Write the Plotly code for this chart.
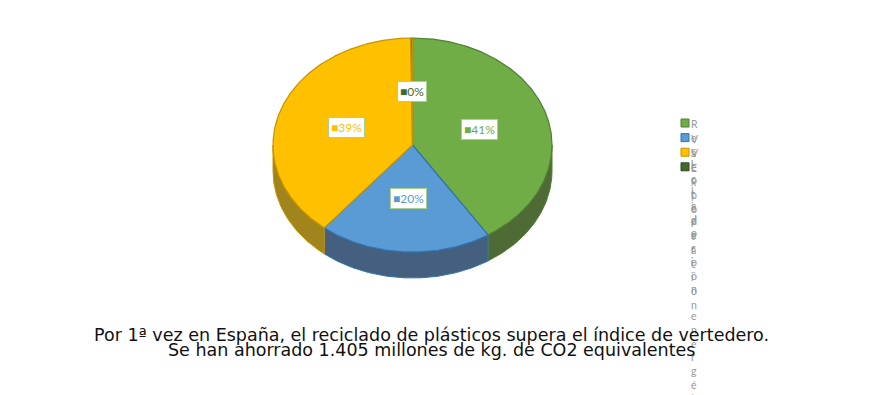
import numpy as np
import plotly.graph_objects as go

categories = ["Reciclado", "Valorización energética", "Vertedero", "Exportación"]
values = [40.9, 20.0, 38.9, 0.2]
top_colors = ["#70AD47", "#5B9BD5", "#FFC000", "#43682B"]
side_colors = ["#4E6B36", "#44607E", "#A2841C", "#2B4420"]
edge_colors = ["#507E32", "#2E75B6", "#C49400", "#C49400"]
title_lines = [
    "Por 1ª vez en España, el reciclado de plásticos supera el índice de vertedero.",
    "Se han ahorrado 1.405 millones de kg. de CO2 equivalentes",
]

W, H = 875, 395
CX, CY, RX, RY, DEPTH = 412.5, 145.0, 139.5, 107.0, 26.0


def pt(theta_deg, f=1.0, dy=0.0):
    t = np.radians(theta_deg)
    return CX + RX * f * np.sin(t), CY - RY * f * np.cos(t) + dy


def arc(a, b, dy=0.0, n=None):
    if n is None:
        n = max(2, int(abs(b - a) * 2) + 2)
    th = np.linspace(a, b, n)
    xs, ys = pt(th, 1.0, dy)
    return list(xs), list(ys)


total = float(sum(values))
bounds = []
acc = 0.0
for v in values:
    a = acc / total * 360.0
    acc += v
    b = acc / total * 360.0
    bounds.append((a, b))

fig = go.Figure()

# side walls (front half only)
for (a, b), sc, ec in zip(bounds, side_colors, edge_colors):
    lo, hi = max(a, 90.0), min(b, 270.0)
    if hi <= lo:
        continue
    tx, ty = arc(lo, hi)
    bx, by = arc(hi, lo, DEPTH)
    fig.add_trace(go.Scatter(
        x=tx + bx + [tx[0]], y=ty + by + [ty[0]], mode="lines", fill="toself",
        fillcolor=sc, line=dict(color=ec, width=1), hoverinfo="skip", showlegend=False))

# top faces
for (a, b), tc, ec in zip(bounds, top_colors, edge_colors):
    ax_, ay_ = arc(a, b)
    fig.add_trace(go.Scatter(
        x=[CX] + ax_ + [CX], y=[CY] + ay_ + [CY], mode="lines", fill="toself",
        fillcolor=tc, line=dict(color=ec, width=1.2), hoverinfo="skip", showlegend=False))

# data labels
for (a, b), v, tc in zip(bounds, values, top_colors):
    mid = (a + b) / 2.0
    lx, ly = pt(mid, 0.5)
    pct = int(round(v / total * 100))
    fig.add_annotation(
        x=float(lx), y=float(ly), xref="x", yref="y", showarrow=False,
        text=f'<span style="color:{tc}">■</span>{pct}%',
        font=dict(family="Lato", size=12, color=tc),
        bgcolor="white", bordercolor="#A9D18E", borderwidth=1, borderpad=2)

# legend (vertical text as in the original)
LX, LY0, LDY = 685.0, 123.0, 14.6
ly_list = [LY0 + i * LDY for i in range(len(categories))]
fig.add_trace(go.Scatter(
    x=[LX] * len(categories), y=ly_list, mode="markers",
    marker=dict(symbol="square", size=8, color=top_colors,
                line=dict(color=["#507E32", "#2E75B6", "#C49400", "#2F4A1E"], width=1)),
    hoverinfo="skip", showlegend=False))
for name, yy in zip(categories, ly_list):
    fig.add_annotation(
        x=LX + 4, y=yy - 7, xref="x", yref="y", showarrow=False,
        xanchor="left", yanchor="top", align="left",
        text="<br>".join(list(name)),
        font=dict(family="Lato", size=10.5, color="#999999"))

# title at bottom
for i, line in enumerate(title_lines):
    fig.add_annotation(
        x=W / 2 - 6, y=335 + i * 15, xref="x", yref="y", showarrow=False,
        xanchor="center", yanchor="middle", text=line,
        font=dict(family="DejaVu Sans", size=17.5, color="#111111"))

fig.update_xaxes(range=[0, W], visible=False, fixedrange=True)
fig.update_yaxes(range=[H, 0], visible=False, fixedrange=True)
fig.update_layout(
    width=W, height=H, autosize=False,
    margin=dict(l=0, r=0, t=0, b=0),
    paper_bgcolor="white", plot_bgcolor="white",
)
fig.write_html("out.html")
